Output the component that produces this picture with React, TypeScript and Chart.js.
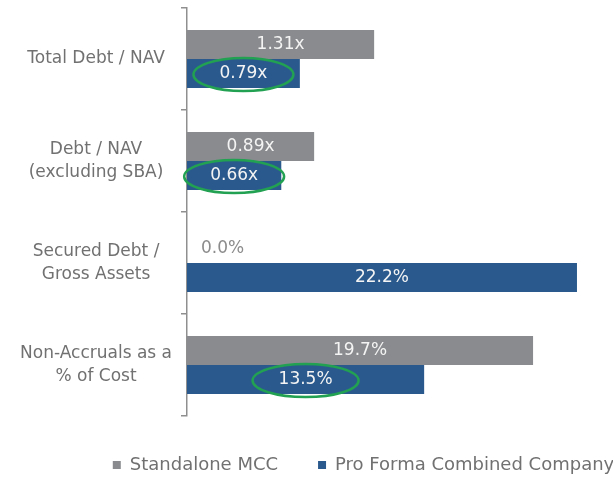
import { useEffect, useRef } from "react";
import { Chart, registerables } from "chart.js";

Chart.register(...registerables);

const categories: string[][] = [
  ["Total Debt / NAV"],
  ["Debt / NAV", "(excluding SBA)"],
  ["Secured Debt /", "Gross Assets"],
  ["Non-Accruals as a", "% of Cost"],
];
const seriesNames = ["Standalone MCC", "Pro Forma Combined Company"];
const units = ["x", "x", "%", "%"];
const standaloneMCC = [1.31, 0.89, 0.0, 19.7];
const proFormaCombined = [0.79, 0.66, 22.2, 13.5];
const circledStandalone = [false, false, false, false];
const circledProForma = [true, true, false, true];

const GRAY = "#8a8b8e";
const BLUE = "#2a5a8d";
const GREEN = "#22a152";
const TEXT = "#717171";
const FONT = "'DejaVu Sans', Verdana, sans-serif";

function pick(values: number[], unit: string) {
  return values.map((v, i) => (units[i] === unit ? v : null));
}

const labelPlugin = {
  id: "barLabels",
  afterDatasetsDraw(chart: any) {
    const ctx = chart.ctx;
    ctx.save();
    ctx.font = `17px ${FONT}`;
    ctx.textBaseline = "middle";
    chart.data.datasets.forEach((ds: any, d: number) => {
      const meta = chart.getDatasetMeta(d);
      meta.data.forEach((bar: any, i: number) => {
        const v = ds.data[i];
        if (v === null || v === undefined) return;
        const { x, y, base } = bar.getProps(["x", "y", "base"], true);
        const text = ds.unit === "x" ? v.toFixed(2) + "x" : v.toFixed(1) + "%";
        let cx: number;
        if (v === 0) {
          ctx.fillStyle = "#8c8c8c";
          ctx.textAlign = "left";
          const w = ctx.measureText(text).width;
          ctx.fillText(text, base + 14, y);
          cx = base + 14 + w / 2;
        } else {
          ctx.fillStyle = "#f4f4f4";
          ctx.textAlign = "center";
          cx = (x + base) / 2;
          ctx.fillText(text, cx, y);
        }
        if (ds.circled && ds.circled[i]) {
          const w = ctx.measureText(text).width;
          ctx.beginPath();
          ctx.ellipse(cx, y + 1, w / 2 + 26, 16.5, 0, 0, Math.PI * 2);
          ctx.strokeStyle = GREEN;
          ctx.lineWidth = 2.5;
          ctx.stroke();
        }
      });
    });
    ctx.restore();
  },
};

export default function App() {
  const ref = useRef<HTMLCanvasElement>(null);
  useEffect(() => {
    if (!ref.current) return;
    const chart = new Chart(ref.current, {
      type: "bar",
      data: {
        labels: categories as any,
        datasets: [
          {
            label: seriesNames[0],
            data: pick(standaloneMCC, "x"),
            backgroundColor: GRAY,
            xAxisID: "xr",
            unit: "x",
            circled: circledStandalone,
          } as any,
          {
            label: seriesNames[1],
            data: pick(proFormaCombined, "x"),
            backgroundColor: BLUE,
            xAxisID: "xr",
            unit: "x",
            circled: circledProForma,
          } as any,
          {
            label: seriesNames[0] + " ",
            data: pick(standaloneMCC, "%"),
            backgroundColor: GRAY,
            xAxisID: "xp",
            unit: "%",
            circled: circledStandalone,
          } as any,
          {
            label: seriesNames[1] + " ",
            data: pick(proFormaCombined, "%"),
            backgroundColor: BLUE,
            xAxisID: "xp",
            unit: "%",
            circled: circledProForma,
          } as any,
        ],
      },
      options: {
        indexAxis: "y",
        responsive: false,
        animation: false,
        skipNull: true,
        categoryPercentage: 0.57,
        barPercentage: 1.0,
        layout: { autoPadding: false, padding: { top: 8, left: 0, right: 0, bottom: 0 } },
        scales: {
          xr: { type: "linear", display: false, min: 0, max: 3.78, position: "bottom" },
          xp: { type: "linear", display: false, min: 0, max: 30.74, position: "bottom" },
          y: {
            type: "category",
            offset: true,
            afterFit: (scale: any) => {
              scale.width = 187;
              scale.paddingTop = 0;
              scale.paddingBottom = 0;
            },
            border: { display: true, color: "#8f8f8f", width: 1.5 },
            grid: {
              display: true,
              drawOnChartArea: false,
              drawTicks: true,
              tickLength: 6,
              color: "#8f8f8f",
              lineWidth: 1.5,
              offset: true,
            },
            ticks: {
              crossAlign: "center",
              padding: 9,
              color: TEXT,
              font: { family: FONT, size: 17, lineHeight: 1.35 },
            },
          },
        },
        plugins: {
          tooltip: { enabled: false },
          legend: {
            display: true,
            position: "bottom",
            labels: {
              boxWidth: 8,
              boxHeight: 8,
              padding: 40,
              color: TEXT,
              font: { family: FONT, size: 18 },
              filter: (item: any) => item.datasetIndex < 2,
            },
          },
        },
      } as any,
      plugins: [labelPlugin],
    });
    return () => chart.destroy();
  }, []);
  return (
    <div
      style={{
        position: "absolute",
        left: 0,
        top: 0,
        width: 613,
        height: 477,
        overflow: "hidden",
        background: "#fff",
      }}
    >
      <canvas ref={ref} width={727} height={484} style={{ display: "block" }} />
    </div>
  );
}
